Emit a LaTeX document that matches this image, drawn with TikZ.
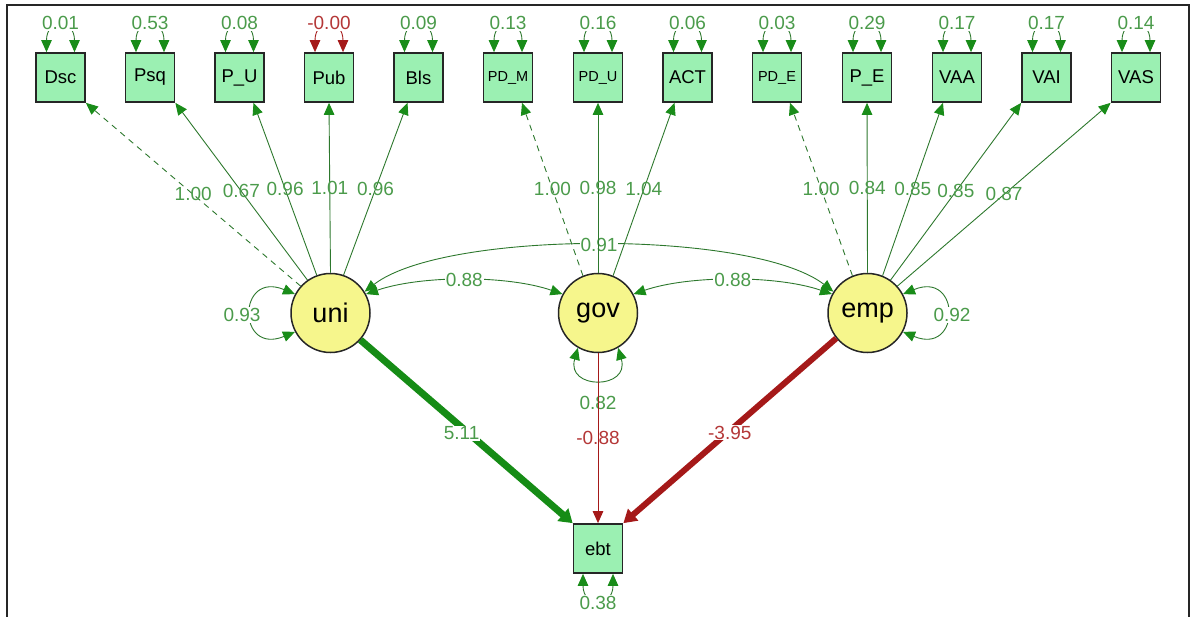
\documentclass[tikz,border=0pt]{standalone}
\usepackage{fontspec}
\setmainfont{Liberation Sans}
\usetikzlibrary{arrows.meta,calc}

\definecolor{boxfill}{RGB}{155,240,178}
\definecolor{latfill}{RGB}{246,246,140}
\definecolor{pathgreen}{RGB}{45,120,45}
\definecolor{tipgreen}{RGB}{25,140,25}
\definecolor{labgreen}{RGB}{75,155,75}
\definecolor{thickgreen}{RGB}{22,140,22}
\definecolor{pathred}{RGB}{165,25,25}
\definecolor{labred}{RGB}{180,55,55}

\tikzset{
  obs/.style={draw=black!85, line width=1.7pt, fill=boxfill, minimum size=49pt,
    inner sep=0pt, font=\fontsize{18.5}{18.5}\selectfont},
  obssmall/.style={obs, font=\fontsize{14.5}{14.5}\selectfont},
  lat/.style={circle, draw=black!85, line width=1.5pt, fill=latfill, minimum size=79pt,
    inner sep=0pt, font=\fontsize{27}{27}\selectfont},
  gtip/.tip={Triangle[length=12pt,width=10.5pt,color=tipgreen]},
  rtip/.tip={Triangle[length=12pt,width=10.5pt,color=pathred]},
  loadpath/.style={draw=pathgreen, line width=0.9pt, -gtip},
  loaddash/.style={loadpath, dash pattern=on 6pt off 5pt},
  varloop/.style={draw=pathgreen, line width=0.9pt, gtip-gtip},
  varred/.style={draw=pathred, line width=0.9pt, rtip-rtip},
  coef/.style={text=labgreen, font=\fontsize{19}{19}\selectfont, inner sep=1pt},
  coefbg/.style={coef, fill=white},
  coefred/.style={coef, text=labred},
}

\begin{document}
\begin{tikzpicture}[x=1pt,y=-1pt]
\useasboundingbox (0,0) rectangle (1190,617);
% outer frame
\draw[line width=2pt, black!85] (6.5,617) -- (6.5,5.5) -- (1188.5,5.5) -- (1188.5,617);

% observed indicators
\node[obs]      (Dsc) at (60.5,77.5)   {Dsc};
\node[obs]      (Psq) at (150,77.5)    {Psq};
\node[obs]      (PU)  at (239.5,77.5)  {P\_U};
\node[obs]      (Pub) at (329,77.5)    {Pub};
\node[obs]      (Bls) at (418.5,77.5)  {Bls};
\node[obssmall] (PDM) at (508,77.5)    {PD\_M};
\node[obssmall] (PDU) at (598,77.5)    {PD\_U};
\node[obs]      (ACT) at (687.5,77.5)  {ACT};
\node[obssmall] (PDE) at (777,77.5)    {PD\_E};
\node[obs]      (PE)  at (867,77.5)    {P\_E};
\node[obs]      (VAA) at (957,77.5)    {VAA};
\node[obs]      (VAI) at (1046.5,77.5) {VAI};
\node[obs]      (VAS) at (1136,77.5)   {VAS};

% latent factors and outcome
\node[lat] (uni) at (330.5,313) {uni};
\node[lat] (gov) at (598,313)   {gov};
\node[lat] (emp) at (867.5,313) {emp};
\node[obs] (ebt) at (598,548.5) {ebt};

% covariances between factors
\draw[varloop] (uni.32) .. controls +(80,-62) and +(-80,-62) .. (emp.148)
  node[coefbg,pos=0.5] (c91) {0.91};
\draw[varloop] (uni.28) .. controls +(55,-19) and +(-55,-19) .. (gov.152)
  node[coefbg,pos=0.5] (c88a) {0.88};
\draw[varloop] (gov.28) .. controls +(55,-19) and +(-55,-19) .. (emp.152)
  node[coefbg,pos=0.5] (c88b) {0.88};

% indicator error variances
\foreach \b/\v in {Dsc/0.01, Psq/0.53, PU/0.08, Bls/0.09, PDM/0.13, PDU/0.16,
                   ACT/0.06, PDE/0.03, PE/0.29, VAA/0.17, VAI/0.17, VAS/0.14}{
  \draw[varloop] ([xshift=-14pt]\b.north) .. controls +(0,-34) and +(0,-34) .. ([xshift=14pt]\b.north);
  \node[coefbg] (v\b) at ([yshift=29pt]\b.north) {\v};
}
\draw[varred] ([xshift=-14pt]Pub.north) .. controls +(0,-34) and +(0,-34) .. ([xshift=14pt]Pub.north);
\node[coefbg,text=labred] (vPub) at ([yshift=29pt]Pub.north) {-0.00};

% factor variances
\draw[varloop] (uni.152) .. controls +(-58,-24) and +(-58,24) .. (uni.208);
\node[coefbg] (vuni) at (242,315) {0.93};
\draw[varloop] (emp.28) .. controls +(58,-24) and +(58,24) .. (emp.-28);
\node[coefbg] (vemp) at (952,315) {0.92};
\draw[varloop] (gov.240) .. controls +(-12,42) and +(12,42) .. (gov.300);
\node[coefbg] (vgov) at ([yshift=-49.5pt]gov.south) {0.82};

% outcome variance
\draw[varloop] ([xshift=-15pt]ebt.south) .. controls +(0,34) and +(0,34) .. ([xshift=15pt]ebt.south);
\node[coefbg] (vebt) at ([yshift=-29pt]ebt.south) {0.38};

% loadings of uni
\draw[loaddash] (uni.138) -- (Dsc.south east) node[coef,pos=0.5] (lDsc) {1.00};
\draw[loadpath] (uni.125) -- (Psq.south east) node[coef,pos=0.5] (lPsq) {0.67};
\draw[loadpath] (uni.110) -- ([xshift=14pt]PU.south) node[coef,pos=0.5] (lPU) {0.96};
\draw[loadpath] (uni.90) -- (Pub.south) node[coef,pos=0.5] (lPub) {1.01};
\draw[loadpath] (uni.71) -- ([xshift=-11pt]Bls.south) node[coef,pos=0.5] (lBls) {0.96};

% loadings of gov
\draw[loaddash] (gov.112) -- ([xshift=14pt]PDM.south) node[coef,pos=0.5] (lPDM) {1.00};
\draw[loadpath] (gov.90) -- (PDU.south) node[coef,pos=0.5] (lPDU) {0.98};
\draw[loadpath] (gov.68) -- ([xshift=-13pt]ACT.south) node[coef,pos=0.5] (lACT) {1.04};

% loadings of emp
\draw[loaddash] (emp.112) -- ([xshift=13pt]PDE.south) node[coef,pos=0.5] (lPDE) {1.00};
\draw[loadpath] (emp.90) -- (PE.south) node[coef,pos=0.5] (lPE) {0.84};
\draw[loadpath] (emp.68) -- ([xshift=-14pt]VAA.south) node[coef,pos=0.5] (lVAA) {0.85};
\draw[loadpath] (emp.55) -- (VAI.south west) node[coef,pos=0.5] (lVAI) {0.85};
\draw[loadpath] (emp.42) -- (VAS.south west) node[coef,pos=0.5] (lVAS) {0.87};

% structural paths to ebt
\draw[thickgreen, line width=7pt, -{Triangle[length=13pt,width=16pt,color=thickgreen]}]
  (uni.-42) -- (ebt.north west) node[coefbg,pos=0.5,xshift=-5pt,yshift=-2pt] (s1) {5.11};
\draw[pathred, line width=6pt, -{Triangle[length=13pt,width=15pt,color=pathred]}]
  (emp.219) -- (ebt.north east) node[coefbg,text=labred,pos=0.5,yshift=-2pt] (s3) {-3.95};
\draw[pathred, line width=1pt, -rtip]
  (gov.south) -- (ebt.north) node[coefred,pos=0.5] (s2) {-0.88};
\end{tikzpicture}
\end{document}
